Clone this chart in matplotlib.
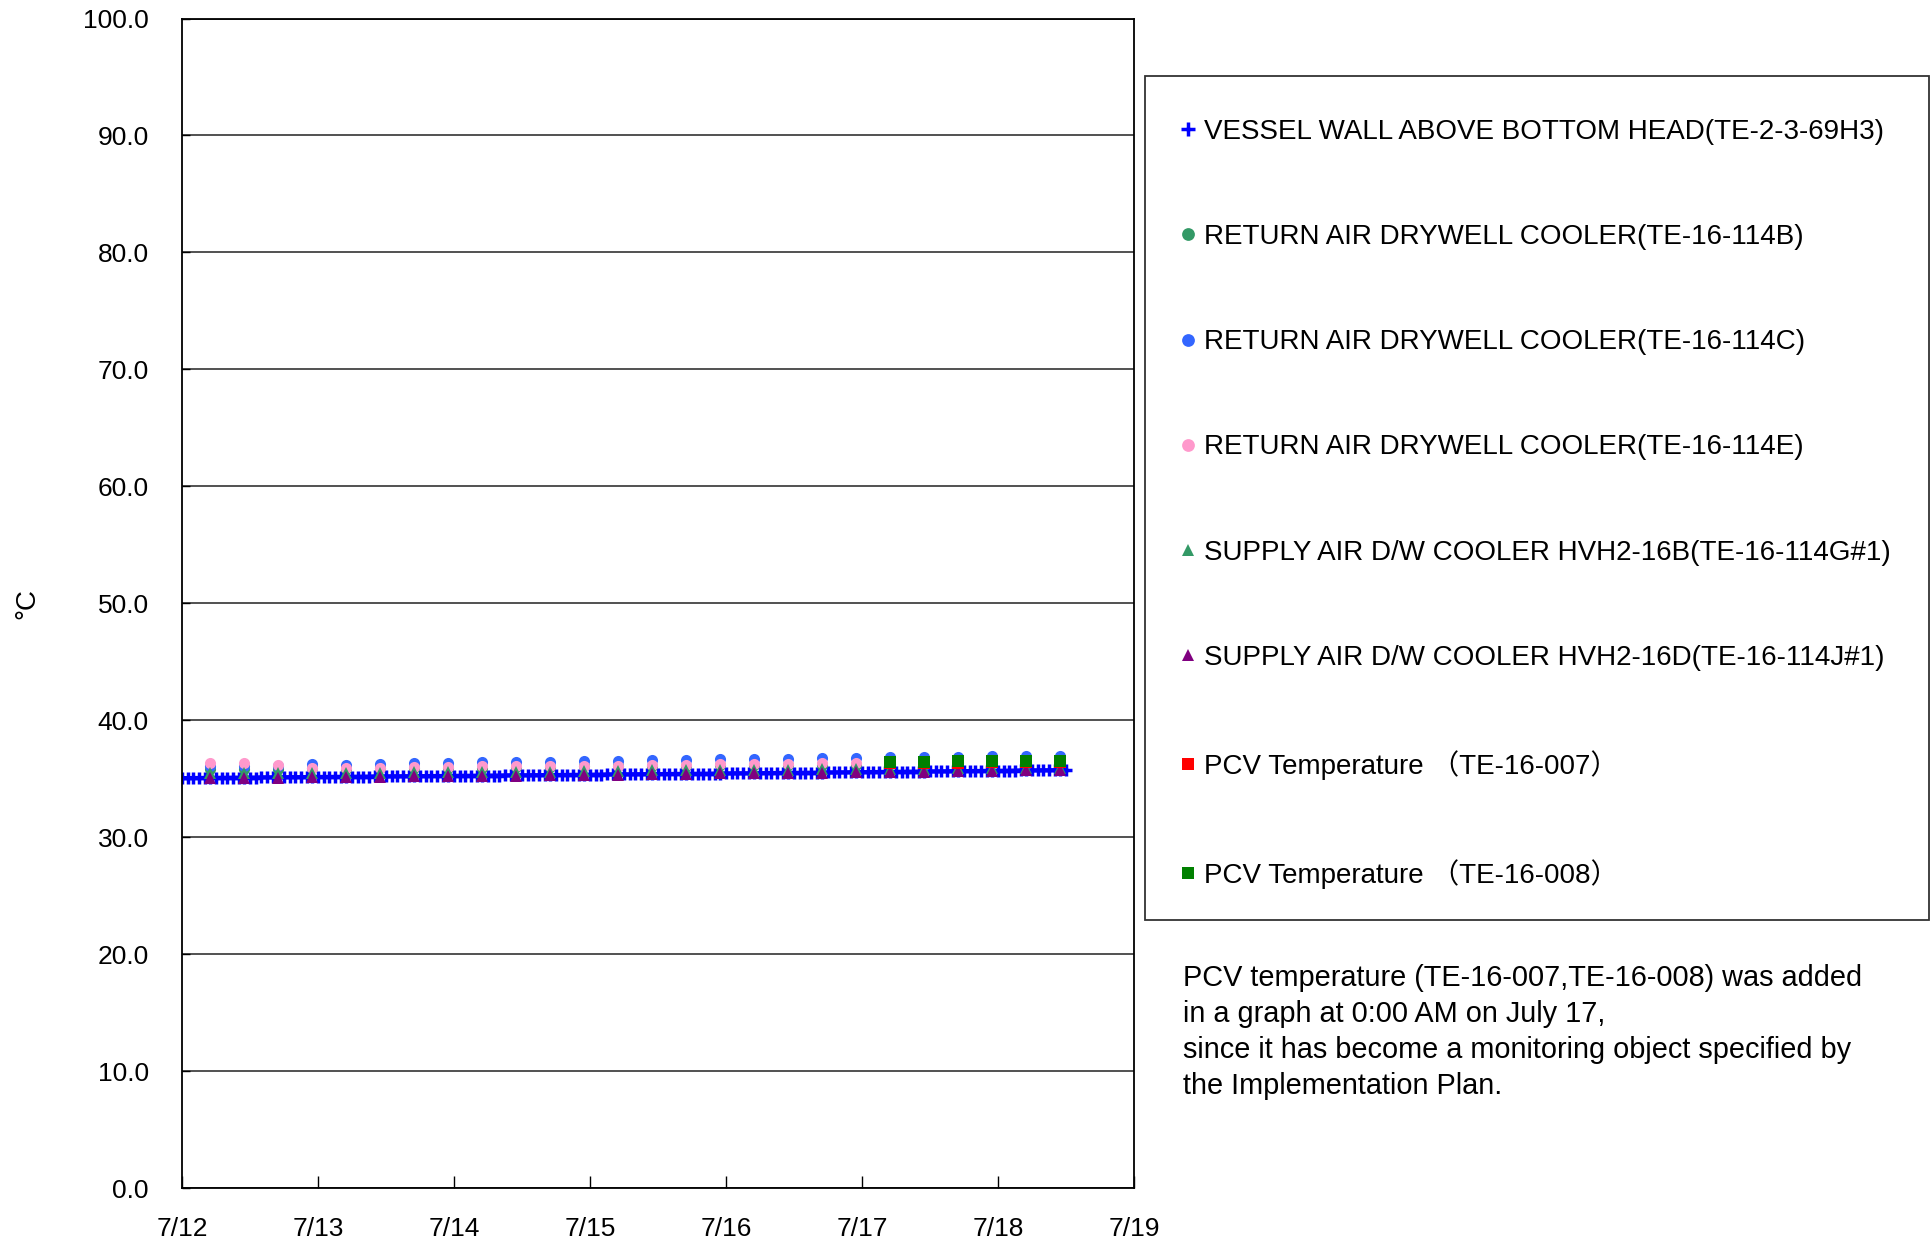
import numpy as np
import pandas as pd
import matplotlib
matplotlib.use('Agg')
import matplotlib.pyplot as plt
import matplotlib.dates as mdates
from matplotlib.lines import Line2D
from matplotlib.patches import Rectangle

plt.rcParams['font.family'] = ['Liberation Sans', 'Noto Sans CJK JP', 'DejaVu Sans']

# hourly readings, vessel wall (7/12 0:00 .. 7/18 12:00)
vessel_wall = [
    35.05, 35.05, 35.06, 35.06, 35.07, 35.07, 35.07, 35.08, 35.08, 35.09, 35.09, 35.09,
    35.10, 35.10, 35.11, 35.11, 35.11, 35.12, 35.12, 35.13, 35.13, 35.13, 35.14, 35.14,
    35.15, 35.15, 35.15, 35.16, 35.16, 35.17, 35.17, 35.17, 35.18, 35.18, 35.19, 35.19,
    35.19, 35.20, 35.20, 35.21, 35.21, 35.21, 35.22, 35.22, 35.23, 35.23, 35.23, 35.24,
    35.24, 35.25, 35.25, 35.25, 35.26, 35.26, 35.27, 35.27, 35.27, 35.28, 35.28, 35.29,
    35.29, 35.29, 35.30, 35.30, 35.31, 35.31, 35.31, 35.32, 35.32, 35.33, 35.33, 35.34,
    35.34, 35.35, 35.35, 35.36, 35.36, 35.36, 35.37, 35.37, 35.38, 35.38, 35.39, 35.39,
    35.39, 35.40, 35.40, 35.41, 35.41, 35.42, 35.42, 35.42, 35.43, 35.43, 35.44, 35.44,
    35.45, 35.45, 35.46, 35.46, 35.46, 35.47, 35.47, 35.48, 35.48, 35.49, 35.49, 35.50,
    35.50, 35.50, 35.51, 35.51, 35.52, 35.52, 35.53, 35.53, 35.54, 35.54, 35.55, 35.55,
    35.56, 35.56, 35.57, 35.57, 35.58, 35.58, 35.59, 35.59, 35.60, 35.60, 35.61, 35.61,
    35.62, 35.62, 35.63, 35.63, 35.64, 35.64, 35.65, 35.65, 35.66, 35.66, 35.67, 35.67,
    35.68, 35.68, 35.69, 35.69, 35.70, 35.70, 35.71, 35.71, 35.72, 35.72, 35.73, 35.73,
    35.74,
]
hourly_times = pd.date_range('2011-07-12 00:00', periods=len(vessel_wall), freq='h')

# 6-hourly readings (7/12 5:00 .. 7/18 11:00)
ret_114b = [35.85, 35.85, 35.85, 35.9, 35.85, 35.9, 35.9, 35.95, 35.95, 36.0, 36.0, 36.05, 36.05,
            36.1, 36.1, 36.15, 36.15, 36.2, 36.2, 36.2, 36.25, 36.25, 36.3, 36.3, 36.3, 36.35]
ret_114c = [36.05, 36.05, 36.05, 36.25, 36.2, 36.25, 36.3, 36.35, 36.4, 36.4, 36.45, 36.5, 36.5,
            36.6, 36.6, 36.65, 36.7, 36.7, 36.75, 36.75, 36.85, 36.85, 36.85, 36.9, 36.9, 36.95]
ret_114e = [36.3, 36.3, 36.2, 35.95, 35.9, 35.95, 36.0, 36.0, 36.05, 36.05, 36.1, 36.1, 36.1,
            36.2, 36.2, 36.25, 36.25, 36.25, 36.3, 36.35, 36.35, 36.35, 36.4, 36.4, 36.4, 36.45]
sup_114g = [35.45, 35.45, 35.45, 35.5, 35.5, 35.5, 35.55, 35.55, 35.6, 35.6, 35.6, 35.65, 35.65,
            35.7, 35.7, 35.75, 35.75, 35.75, 35.8, 35.8, 35.85, 35.85, 35.9, 35.9, 35.9, 35.95]
sup_114j = [35.1, 35.1, 35.1, 35.15, 35.15, 35.15, 35.2, 35.2, 35.25, 35.25, 35.3, 35.3, 35.35,
            35.4, 35.4, 35.45, 35.45, 35.5, 35.5, 35.55, 35.6, 35.6, 35.65, 35.65, 35.7, 35.7]
six_hour_times = pd.date_range('2011-07-12 05:00', periods=len(ret_114c), freq='6h')

# PCV temperature, added from 7/17
pcv_007 = [36.3, 36.35, 36.35, 36.4, 36.4, 36.45]
pcv_008 = [36.45, 36.45, 36.5, 36.5, 36.55, 36.55]
pcv_times = pd.date_range('2011-07-17 05:00', periods=len(pcv_008), freq='6h')

labels = [
    'VESSEL WALL ABOVE BOTTOM HEAD(TE-2-3-69H3)',
    'RETURN AIR DRYWELL COOLER(TE-16-114B)',
    'RETURN AIR DRYWELL COOLER(TE-16-114C)',
    'RETURN AIR DRYWELL COOLER(TE-16-114E)',
    'SUPPLY AIR D/W COOLER HVH2-16B(TE-16-114G#1)',
    'SUPPLY AIR D/W COOLER HVH2-16D(TE-16-114J#1)',
    'PCV Temperature （TE-16-007）',
    'PCV Temperature （TE-16-008）',
]
note = ('PCV temperature (TE-16-007,TE-16-008) was added\n'
        'in a graph at 0:00 AM on July 17,\n'
        'since it has become a monitoring object specified by\n'
        'the Implementation Plan.')

styles = [
    dict(marker='+', color='#0000FF', ms=9, mew=2.5),
    dict(marker='o', color='#339966', ms=8, mew=0),
    dict(marker='o', color='#3366FF', ms=8, mew=0),
    dict(marker='o', color='#FF99CC', ms=8, mew=0),
    dict(marker='^', color='#339966', ms=8, mew=0),
    dict(marker='^', color='#800080', ms=8, mew=0),
    dict(marker='s', color='#FF0000', ms=8, mew=0),
    dict(marker='s', color='#008000', ms=8, mew=0),
]

W, H = 1931, 1244
fig = plt.figure(figsize=(W / 100, H / 100), dpi=100)
ax = fig.add_axes([182 / W, 1 - 1188 / H, (1134 - 182) / W, (1188 - 18.5) / H])

ax.plot(hourly_times, vessel_wall, linestyle='-', lw=3, **styles[0])
series = [ret_114b, ret_114c, ret_114e, sup_114g, sup_114j]
for vals, st in zip(series, styles[1:6]):
    ax.plot(six_hour_times, vals, linestyle='none', **st)
ax.plot(pcv_times, pcv_007, linestyle='none', **styles[6])
ax.plot(pcv_times, pcv_008, linestyle='none', **styles[7])

ax.set_ylim(0, 100)
ax.set_yticks(np.arange(0, 101, 10))
ax.yaxis.set_major_formatter(matplotlib.ticker.FormatStrFormatter('%.1f'))
ax.set_xlim(pd.Timestamp('2011-07-12'), pd.Timestamp('2011-07-19'))
ax.xaxis.set_major_locator(mdates.DayLocator())
ax.xaxis.set_major_formatter(matplotlib.ticker.FuncFormatter(
    lambda v, p: f'{mdates.num2date(v).month}/{mdates.num2date(v).day}'))
ax.grid(axis='y', color='#333333', lw=1.2)
ax.tick_params(axis='x', direction='in', length=9, width=1, pad=21, labelsize=19)
ax.tick_params(axis='y', direction='in', length=6, width=1, pad=24, labelsize=19)
for s in ax.spines.values():
    s.set_linewidth(1.3)
ax.set_ylabel('°C', fontsize=20, labelpad=0)
ax.yaxis.set_label_coords(-0.149, 0.5)

# legend frame and entries
fig.patches.append(Rectangle((1145 / W, 1 - 920 / H), (1929 - 1145) / W, (920 - 76) / H,
                             transform=fig.transFigure, fill=False, edgecolor='#333333', lw=1.3))
handles = [Line2D([], [], linestyle='none', **st) for st in styles]
fig.legend(handles, labels, loc='upper left', bbox_to_anchor=(1178 / W, 1 - 119 / H),
           frameon=False, fontsize=20, handlelength=0.75, handletextpad=0.2,
           borderpad=0, borderaxespad=0, labelspacing=2.85, markerscale=1.15)

fig.text(1183 / W, 1 - 964 / H, note, fontsize=20.8, va='top', ha='left', linespacing=1.36)

fig.savefig('out.png', dpi=100)
